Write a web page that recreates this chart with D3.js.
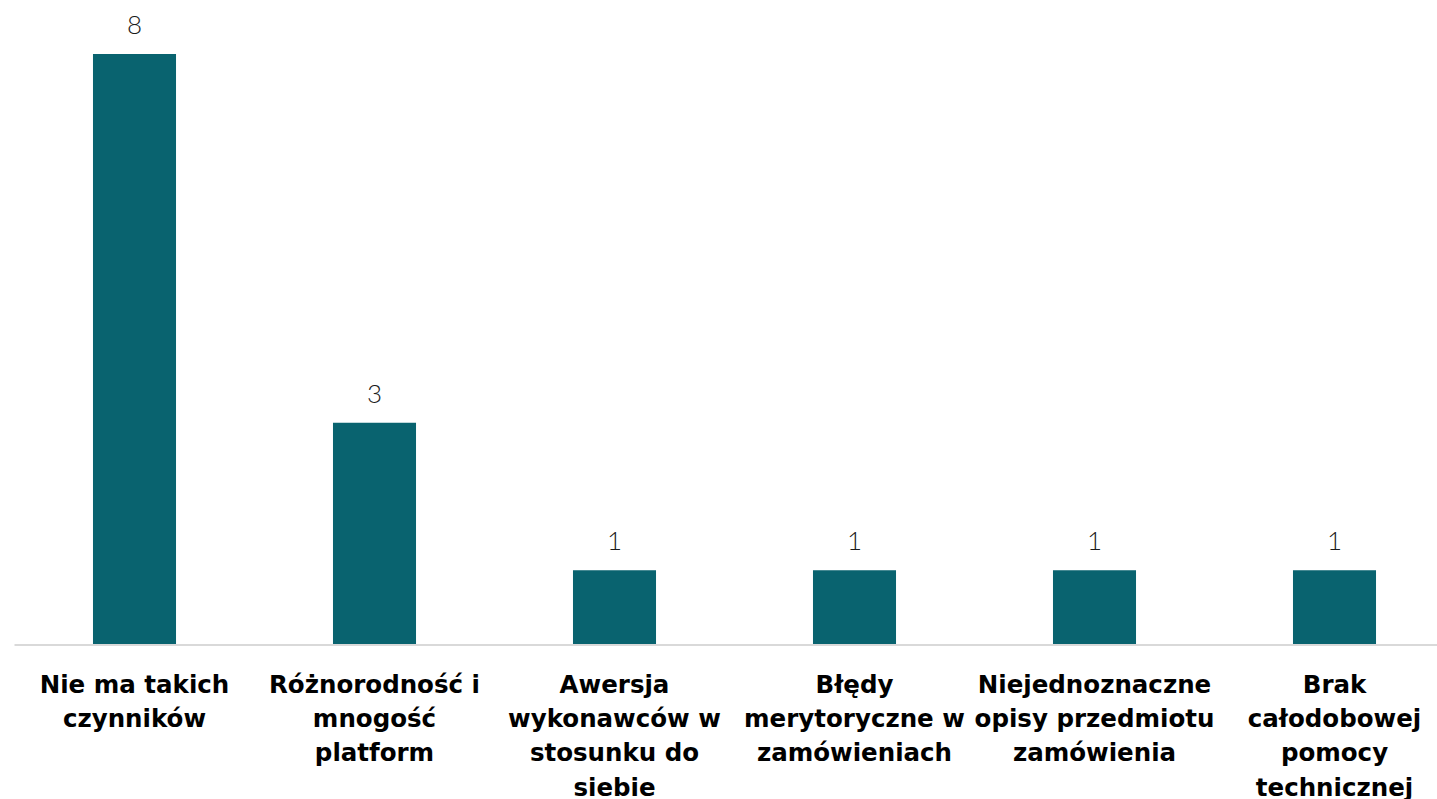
<!DOCTYPE html>
<html>
<head>
<meta charset="utf-8">
<script src="https://cdn.jsdelivr.net/npm/d3@7"></script>
<style>
  html, body { margin: 0; padding: 0; background: #fff; }
  svg { display: block; }
</style>
</head>
<body>
<svg id="chart" width="1437" height="799"></svg>
<script>
const categories = [
  "Nie ma takich\nczynników",
  "Różnorodność i\nmnogość\nplatform",
  "Awersja\nwykonawców w\nstosunku do\nsiebie",
  "Błędy\nmerytoryczne w\nzamówieniach",
  "Niejednoznaczne\nopisy przedmiotu\nzamówienia",
  "Brak\ncałodobowej\npomocy\ntechnicznej"
];
const values = [8, 3, 1, 1, 1, 1];

const W = 1437, H = 799;
const svg = d3.select("#chart");

const x = d3.scaleBand()
  .domain(categories)
  .range([14.5, 1454.5])
  .paddingInner(0.654)
  .paddingOuter(0.327);

const y = d3.scaleLinear()
  .domain([0, 8])
  .range([644, 54]);

svg.append("g")
  .selectAll("rect")
  .data(values)
  .join("rect")
  .attr("x", (d, i) => x(categories[i]))
  .attr("width", x.bandwidth())
  .attr("y", d => y(d))
  .attr("height", d => y(0) - y(d))
  .attr("fill", "#09636f");

// axis baseline
svg.append("line")
  .attr("x1", 14.5).attr("x2", W)
  .attr("y1", y(0) + 1).attr("y2", y(0) + 1)
  .attr("stroke", "#d9d9d9").attr("stroke-width", 2);

// value labels
svg.append("g")
  .selectAll("text")
  .data(values)
  .join("text")
  .attr("x", (d, i) => x(categories[i]) + x.bandwidth() / 2)
  .attr("y", d => y(d) - 20)
  .attr("text-anchor", "middle")
  .attr("font-family", "Lato, 'Open Sans', sans-serif")
  .attr("font-weight", 300)
  .attr("font-size", 26)
  .attr("fill", "#1a1a1a")
  .text(d => d);

// category labels
const lab = svg.append("g")
  .selectAll("text")
  .data(categories)
  .join("text")
  .attr("x", d => x(d) + x.bandwidth() / 2)
  .attr("y", 692.5)
  .attr("text-anchor", "middle")
  .attr("font-family", "'DejaVu Sans', sans-serif")
  .attr("font-weight", 700)
  .attr("font-size", 24.5)
  .attr("fill", "#000");

lab.each(function(d) {
  const t = d3.select(this);
  const cx = t.attr("x");
  d.split("\n").forEach((line, i) => {
    t.append("tspan")
      .attr("x", cx)
      .attr("dy", i === 0 ? 0 : 34.4)
      .text(line);
  });
});
</script>
</body>
</html>
